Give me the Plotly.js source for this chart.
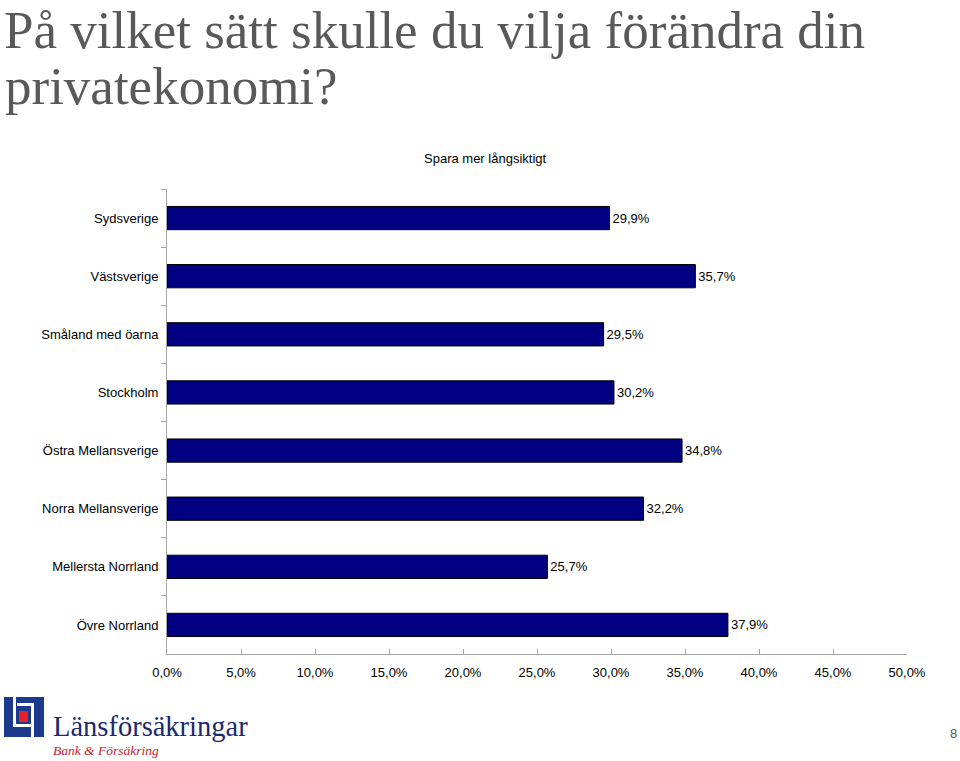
<!DOCTYPE html>
<html>
<head>
<meta charset="utf-8">
<script src="https://cdn.plot.ly/plotly-3.0.1.min.js"></script>
<style>html,body{margin:0;padding:0;background:#fff;}#chart{width:960px;height:761px;}</style>
</head>
<body>
<div id="chart"></div>
<script>
const categories = ["Sydsverige","Västsverige","Småland med öarna","Stockholm","Östra Mellansverige","Norra Mellansverige","Mellersta Norrland","Övre Norrland"];
const values = [29.9, 35.7, 29.5, 30.2, 34.8, 32.2, 25.7, 37.9];
const tickValues = [0,5,10,15,20,25,30,35,40,45,50];
const tickLabels = tickValues.map(v => v.toFixed(1).replace('.', ',') + '%');
const valueLabels = values.map(v => v.toFixed(1).replace('.', ',') + '%');
const seriesName = "Spara mer långsiktigt";
const titleLines = ["På vilket sätt skulle du vilja förändra din", "privatekonomi?"];

const W = 960, H = 761;
const L = 167, R = 907, T = 189, B = 654;
const px = x => (x - L) / (R - L);
const py = y => (B - y) / (B - T);

const trace = {
  type: 'bar',
  orientation: 'h',
  y: categories,
  x: values,
  width: 0.4,
  marker: {color: '#000080', line: {color: '#000000', width: 1}},
  text: valueLabels,
  textposition: 'outside',
  textfont: {family: 'Liberation Sans, Arial, sans-serif', size: 13, color: '#000'},
  cliponaxis: false,
  hoverinfo: 'none'
};

const shapes = [
  {type:'rect', xref:'paper', yref:'paper', x0:px(4), x1:px(44), y0:py(737), y1:py(697), fillcolor:'#1b3a8c', line:{width:0}, layer:'above'},
  {type:'rect', xref:'paper', yref:'paper', x0:px(13), x1:px(16), y0:py(727), y1:py(697), fillcolor:'#fff', line:{width:0}, layer:'above'},
  {type:'rect', xref:'paper', yref:'paper', x0:px(13), x1:px(34), y0:py(727), y1:py(724), fillcolor:'#fff', line:{width:0}, layer:'above'},
  {type:'rect', xref:'paper', yref:'paper', x0:px(17), x1:px(34), y0:py(706), y1:py(703), fillcolor:'#fff', line:{width:0}, layer:'above'},
  {type:'rect', xref:'paper', yref:'paper', x0:px(31), x1:px(34), y0:py(737), y1:py(703), fillcolor:'#fff', line:{width:0}, layer:'above'},
  {type:'rect', xref:'paper', yref:'paper', x0:px(19), x1:px(28), y0:py(722), y1:py(711), fillcolor:'#e5212b', line:{width:0}, layer:'above'}
];

const titleFont = {family: 'Liberation Serif, Times New Roman, serif', size: 53, color: '#595959'};
const annotations = [
  {text: titleLines[0], xref:'paper', yref:'paper', x:px(3), y:py(0), xanchor:'left', yanchor:'top', borderpad:0, showarrow:false, font:titleFont},
  {text: titleLines[1], xref:'paper', yref:'paper', x:px(3), y:py(86), xanchor:'left', yanchor:'middle', showarrow:false, font:titleFont},
  {text: seriesName, xref:'paper', yref:'paper', x:px(485), y:py(158), xanchor:'center', yanchor:'middle', showarrow:false,
   font:{family:'Liberation Sans, Arial, sans-serif', size:13, color:'#000'}},
  {text:'Länsförsäkringar', xref:'paper', yref:'paper', x:px(51), y:py(726), xanchor:'left', yanchor:'middle', showarrow:false,
   font:{family:'Liberation Serif, Times New Roman, serif', size:28.5, color:'#1a2a6e'}},
  {text:'<i>Bank &amp; Försäkring</i>', xref:'paper', yref:'paper', x:px(51), y:py(750), xanchor:'left', yanchor:'middle', showarrow:false,
   font:{family:'Liberation Serif, Times New Roman, serif', size:13.5, color:'#c8202b'}},
  {text:'8', xref:'paper', yref:'paper', x:px(953), y:py(733), xanchor:'center', yanchor:'middle', showarrow:false,
   font:{family:'Liberation Sans, Arial, sans-serif', size:13, color:'#555'}}
];

const layout = {
  width: W, height: H, autosize: false,
  margin: {l: L, r: W - R, t: T, b: H - B, pad: 0},
  paper_bgcolor: '#fff', plot_bgcolor: '#fff',
  showlegend: false,
  xaxis: {
    range: [0, 50], tickvals: tickValues, ticktext: tickLabels,
    showgrid: false, zeroline: false,
    showline: true, linecolor: '#a6a6a6', linewidth: 1,
    ticks: 'inside', ticklen: 5, tickcolor: '#a6a6a6',
    ticklabelstandoff: 6,
    tickfont: {family: 'Liberation Sans, Arial, sans-serif', size: 13, color: '#000'},
    fixedrange: true
  },
  yaxis: {
    autorange: 'reversed', type: 'category',
    showgrid: false, zeroline: false,
    showline: true, linecolor: '#a6a6a6', linewidth: 1,
    ticks: 'outside', tickson: 'boundaries', ticklen: 5, tickcolor: '#a6a6a6',
    ticklabelstandoff: 5,
    tickfont: {family: 'Liberation Sans, Arial, sans-serif', size: 13, color: '#000'},
    fixedrange: true
  },
  shapes: shapes,
  annotations: annotations
};

Plotly.newPlot('chart', [trace], layout, {displayModeBar: false, staticPlot: true});
</script>
</body>
</html>
